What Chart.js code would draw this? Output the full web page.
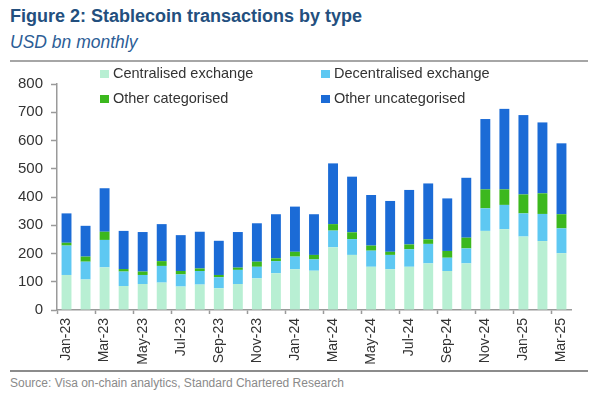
<!DOCTYPE html>
<html>
<head>
<meta charset="utf-8">
<script src="https://cdn.jsdelivr.net/npm/chart.js@4"></script>
<style>
  html, body { margin: 0; padding: 0; background: #fff; }
  body { width: 602px; height: 398px; position: relative; overflow: hidden; font-family: "Liberation Sans", Arial, sans-serif; }
  .title { position: absolute; left: 10px; top: 6px; font-size: 18px; font-weight: bold; color: #234f7e; }
  .subtitle { position: absolute; left: 10px; top: 32px; font-size: 17.5px; font-style: italic; color: #2c5d96; }
  .rule { position: absolute; left: 10px; width: 578px; height: 2px; background: #a6a6a6; }
  .source { position: absolute; left: 10px; top: 376px; font-size: 12px; color: #8a8a8a; }
  #wrap { position: absolute; left: 0; top: 62px; width: 602px; height: 308px; }
  .legend { position: absolute; font-size: 14.5px; color: #333; white-space: nowrap; }
  .legend span.box { position: absolute; left: -13px; top: 5px; width: 9px; height: 8px; }
</style>
</head>
<body>
<div class="title">Figure 2: Stablecoin transactions by type</div>
<div class="subtitle">USD bn monthly</div>
<div class="rule" style="top:60px"></div>
<div id="wrap"><canvas id="grafico"></canvas></div>
<div class="legend" style="left:113px;top:65px"><span class="box" style="background:#b8efd3"></span>Centralised exchange</div>
<div class="legend" style="left:334px;top:65px"><span class="box" style="background:#5ec8f2"></span>Decentralised exchange</div>
<div class="legend" style="left:113px;top:90px"><span class="box" style="background:#3cb81e"></span>Other categorised</div>
<div class="legend" style="left:334px;top:90px"><span class="box" style="background:#1b6bd6"></span>Other uncategorised</div>
<div class="rule" style="top:370px;height:1.5px;background:#8c8c8c"></div>
<div class="source">Source: Visa on-chain analytics, Standard Chartered Research</div>

<script>
const meses = ['Jan-23','Feb-23','Mar-23','Apr-23','May-23','Jun-23','Jul-23','Aug-23','Sep-23','Oct-23','Nov-23','Dec-23',
  'Jan-24','Feb-24','Mar-24','Apr-24','May-24','Jun-24','Jul-24','Aug-24','Sep-24','Oct-24','Nov-24','Dec-24',
  'Jan-25','Feb-25','Mar-25'];

const centralised = [124,108,151,85,92,97,83,90,77,92,112,130,144,139,222,195,153,144,153,165,138,165,280,286,260,244,201];
const decentralised = [104,63,97,51,32,59,43,48,39,50,41,43,45,40,59,56,57,51,62,69,47,53,80,86,82,96,88];
const otherCategorised = [10,18,29,9,12,17,12,9,8,8,18,10,17,16,23,24,18,11,17,16,24,38,67,55,67,73,50];
const otherUncategorised = [104,109,154,135,140,131,127,130,121,126,136,156,160,144,215,197,179,180,193,198,186,212,249,285,281,251,251];

const yTicks = [0,100,200,300,400,500,600,700,800];

const cores = ['#b8efd3', '#5ec8f2', '#3cb81e', '#1b6bd6'];

const ctx = document.getElementById('grafico').getContext('2d');
new Chart(ctx, {
  type: 'bar',
  data: {
    labels: meses,
    datasets: [
      { label: 'Centralised exchange', data: centralised, backgroundColor: cores[0] },
      { label: 'Decentralised exchange', data: decentralised, backgroundColor: cores[1] },
      { label: 'Other categorised', data: otherCategorised, backgroundColor: cores[2] },
      { label: 'Other uncategorised', data: otherUncategorised, backgroundColor: cores[3] }
    ]
  },
  options: {
    responsive: true,
    maintainAspectRatio: false,
    animation: false,
    datasets: { bar: { barPercentage: 0.52, categoryPercentage: 1 } },
    layout: { padding: { top: 22, right: 31, left: 0, bottom: 0 } },
    scales: {
      x: {
        stacked: true,
        border: { display: true, color: '#9a9a9a', width: 1.5 },
        grid: {
          offset: true,
          drawOnChartArea: false,
          drawTicks: true,
          tickLength: 4,
          // marca só a cada dois meses
          tickColor: c => (c.index % 2 === 0 ? '#9a9a9a' : 'rgba(0,0,0,0)'),
          tickWidth: 1.5
        },
        ticks: {
          autoSkip: false,
          minRotation: 90,
          maxRotation: 90,
          padding: 4,
          color: '#333',
          font: { family: 'Liberation Sans', size: 14 },
          callback: function (v, i) { return i % 2 === 0 ? meses[i] : ''; }
        },
        afterFit: s => { s.height = 60; }
      },
      y: {
        stacked: true,
        min: 0,
        max: 800,
        border: { display: true, color: '#9a9a9a', width: 1.5 },
        grid: { drawOnChartArea: false, drawTicks: true, tickLength: 6, tickColor: '#9a9a9a', tickWidth: 1.5 },
        afterBuildTicks: s => { s.ticks = yTicks.map(v => ({ value: v })); },
        ticks: {
          padding: 8,
          color: '#333',
          font: { family: 'Liberation Sans', size: 15 }
        },
        afterFit: s => { s.width = 57; }
      }
    },
    plugins: {
      legend: { display: false },
      tooltip: { enabled: false }
    }
  }
});
</script>
</body>
</html>
